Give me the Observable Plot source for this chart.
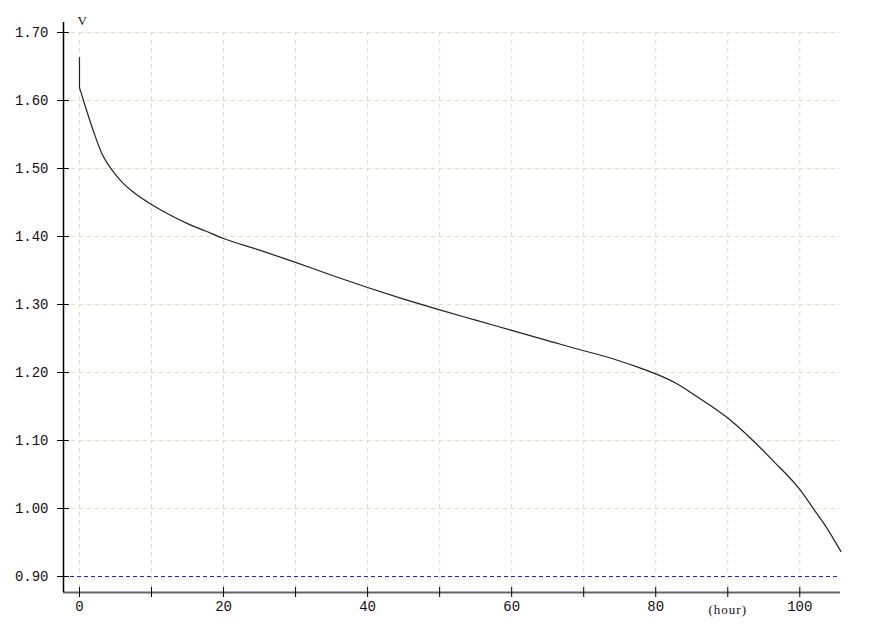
<!DOCTYPE html>
<html>
<head>
<meta charset="utf-8">
<script src="https://cdn.jsdelivr.net/npm/d3@7"></script>
<script src="https://cdn.jsdelivr.net/npm/@observablehq/plot@0.6"></script>
<style>
  html, body { margin: 0; padding: 0; background: #fff; }
  .unit-x { letter-spacing: 1px; }
</style>
</head>
<body>
<div id="chart"></div>
<script>
// Discharge curve: time (hour) vs voltage (V)
const hours = [0, 0, 1, 2, 3.15, 4.5, 5.9, 7.5, 10, 12.5, 15, 17.5, 20, 25, 30, 35, 40, 45, 50, 55, 60, 65, 70, 72.5, 75, 77.5, 80, 82.5, 85.8, 90, 93.2, 96.4, 100, 102, 103.4, 105.7];
const volts = [1.663, 1.619, 1.585, 1.553, 1.521, 1.498, 1.480, 1.465, 1.447, 1.432, 1.419, 1.408, 1.397, 1.380, 1.362, 1.343, 1.325, 1.308, 1.292, 1.277, 1.262, 1.247, 1.232, 1.225, 1.217, 1.208, 1.198, 1.186, 1.164, 1.133, 1.103, 1.069, 1.028, 0.998, 0.977, 0.937];

const xDomain = [-2.22, 105.65];
const yDomain = [0.8765, 1.7147];
const xGrid = [0, 10, 20, 30, 40, 50, 60, 70, 80, 90, 100];
const xLabels = [0, 20, 40, 60, 80, 100];
const yTicks = [0.9, 1.0, 1.1, 1.2, 1.3, 1.4, 1.5, 1.6, 1.7];
const yGrid = [1.0, 1.1, 1.2, 1.3, 1.4, 1.5, 1.6, 1.7];
const cutoff = [0.9];
const xUnit = "(hour)";
const xUnitAt = 90;
const yUnit = "V";

const data = hours.map((h, i) => ({h, v: volts[i]}));

const chart = Plot.plot({
  width: 877,
  height: 633,
  marginLeft: 63,
  marginRight: 37,
  marginTop: 22,
  marginBottom: 41,
  style: {fontFamily: "'Liberation Mono', monospace", fontSize: "14px", color: "#000", background: "#fff"},
  x: {domain: xDomain},
  y: {domain: yDomain},
  marks: [
    // grid
    Plot.ruleX(xGrid, {y1: yGrid[yGrid.length - 1], y2: yDomain[0], stroke: "#dcdcc8", strokeWidth: 1, strokeDasharray: "4,4"}),
    Plot.ruleY(yGrid, {stroke: "#dcdcc8", strokeWidth: 1, strokeDasharray: "4,4"}),
    // cutoff line
    Plot.ruleY(cutoff, {stroke: "#2020e0", strokeWidth: 1, strokeDasharray: "4,3"}),
    // curve: initial vertical drop, then smooth discharge
    Plot.line(data.slice(0, 2), {x: "h", y: "v", stroke: "#222", strokeWidth: 1.2}),
    Plot.line(data.slice(1), {x: "h", y: "v", stroke: "#222", strokeWidth: 1.2, curve: "monotone-x"}),
    // axes lines
    Plot.ruleY([yDomain[0]], {stroke: "#666", strokeWidth: 2}),
    Plot.ruleX([xDomain[0]], {stroke: "#000", strokeWidth: 1.5}),
    // y axis ticks and labels
    Plot.axisY({ticks: yTicks, anchor: "left", tickSize: 12, dx: 6, tickPadding: 9, tickFormat: d3.format(".2f"), label: null, stroke: "#000", fill: "#111"}),
    // x axis ticks
    Plot.axisX({ticks: xGrid, anchor: "bottom", tickSize: 10, dy: -5, text: null, label: null, stroke: "#000"}),
    // x axis labels
    Plot.axisX({ticks: xLabels, anchor: "bottom", tickSize: 0, tickPadding: 9, tickFormat: d3.format("d"), label: null, fill: "#111"}),
    // units
    Plot.text([xUnit], {x: xUnitAt, frameAnchor: "bottom", dy: 17, lineAnchor: "middle", fontSize: 13, fontFamily: "'Liberation Serif', serif", fill: "#111", className: "unit-x"}),
    Plot.text([yUnit], {frameAnchor: "top-left", dx: 14, dy: -2, lineAnchor: "middle", fontSize: 13, fontFamily: "'Liberation Serif', serif", fill: "#111"})
  ]
});
document.getElementById("chart").appendChild(chart);
</script>
</body>
</html>
